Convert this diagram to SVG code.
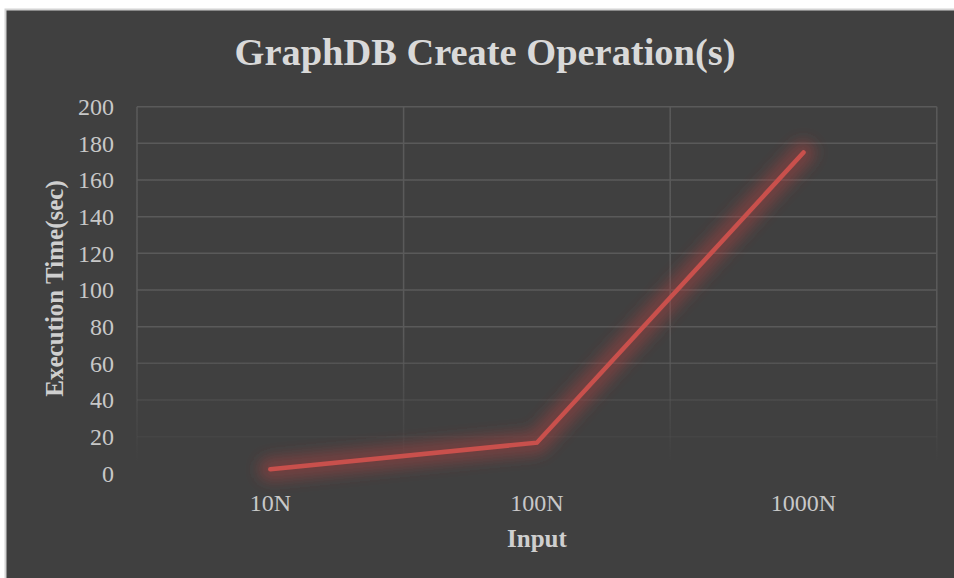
<svg xmlns="http://www.w3.org/2000/svg" width="954" height="578" viewBox="0 0 954 578">
  <defs>
    <linearGradient id="gridFade" gradientUnits="userSpaceOnUse" x1="0" y1="106" x2="0" y2="474">
      <stop offset="0" stop-color="#5a5a5a" stop-opacity="1"/>
      <stop offset="0.62" stop-color="#5a5a5a" stop-opacity="1"/>
      <stop offset="0.8" stop-color="#5a5a5a" stop-opacity="0.45"/>
      <stop offset="0.97" stop-color="#5a5a5a" stop-opacity="0"/>
    </linearGradient>
    <filter id="glow" x="-20%" y="-20%" width="140%" height="140%">
      <feGaussianBlur stdDeviation="7"/>
    </filter>
    <style>
      .tick { font-family: "Liberation Serif", "DejaVu Serif", serif; font-size: 24px; fill: #c8c8c8; }
      .axt { font-family: "Liberation Serif", "DejaVu Serif", serif; font-size: 25px; font-weight: bold; fill: #cfcfcf; }
      .title { font-family: "Liberation Serif", "DejaVu Serif", serif; font-size: 37px; font-weight: bold; fill: #d9d9d9; }
      .grid { stroke: url(#gridFade); stroke-width: 1.5; fill: none; }
    </style>
  </defs>

  <g id="background">
    <rect x="0" y="0" width="954" height="578" fill="#ffffff"/>
    <rect x="5.5" y="9.5" width="960" height="580" fill="#404040" stroke="#d4d4d4" stroke-width="2"/>
  </g>

  <g id="title">
    <text class="title" x="485" y="65" text-anchor="middle" textLength="501" lengthAdjust="spacingAndGlyphs">GraphDB Create Operation(s)</text>
  </g>

  <g id="gridlines">
    <line class="grid" x1="137" y1="106.7" x2="936.8" y2="106.7"/>
    <line class="grid" x1="137" y1="143.3" x2="936.8" y2="143.3"/>
    <line class="grid" x1="137" y1="180" x2="936.8" y2="180"/>
    <line class="grid" x1="137" y1="216.7" x2="936.8" y2="216.7"/>
    <line class="grid" x1="137" y1="253.3" x2="936.8" y2="253.3"/>
    <line class="grid" x1="137" y1="290" x2="936.8" y2="290"/>
    <line class="grid" x1="137" y1="326.7" x2="936.8" y2="326.7"/>
    <line class="grid" x1="137" y1="363.3" x2="936.8" y2="363.3"/>
    <line class="grid" x1="137" y1="400" x2="936.8" y2="400"/>
    <line class="grid" x1="137" y1="436.7" x2="936.8" y2="436.7"/>
    <line class="grid" x1="137" y1="106.7" x2="137" y2="473.3"/>
    <line class="grid" x1="403.6" y1="106.7" x2="403.6" y2="473.3"/>
    <line class="grid" x1="670.2" y1="106.7" x2="670.2" y2="473.3"/>
    <line class="grid" x1="936.8" y1="106.7" x2="936.8" y2="473.3"/>
  </g>

  <g id="y-axis">
    <g class="tick" text-anchor="end">
      <text x="114" y="115">200</text>
      <text x="114" y="151.7">180</text>
      <text x="114" y="188.4">160</text>
      <text x="114" y="225">140</text>
      <text x="114" y="261.7">120</text>
      <text x="114" y="298.4">100</text>
      <text x="114" y="335">80</text>
      <text x="114" y="371.7">60</text>
      <text x="114" y="408.4">40</text>
      <text x="114" y="445">20</text>
      <text x="114" y="481.7">0</text>
    </g>
    <text class="axt" transform="translate(63,288.5) rotate(-90)" text-anchor="middle">Execution Time(sec)</text>
  </g>

  <g id="x-axis">
    <g class="tick" text-anchor="middle">
      <text x="270.3" y="511">10N</text>
      <text x="536.9" y="511">100N</text>
      <text x="803.5" y="511">1000N</text>
    </g>
    <text class="axt" x="536.9" y="546.5" text-anchor="middle">Input</text>
  </g>

  <g id="series">
    <polyline points="270.3,469.3 536.9,442.7 803.5,152.5" fill="none" stroke="#b0403d" stroke-opacity="0.45" stroke-width="24" stroke-linecap="round" stroke-linejoin="round" filter="url(#glow)"/>
    <polyline points="270.3,469.3 536.9,442.7 803.5,152.5" fill="none" stroke="#c9504c" stroke-width="4.5" stroke-linecap="round" stroke-linejoin="miter"/>
  </g>
</svg>
